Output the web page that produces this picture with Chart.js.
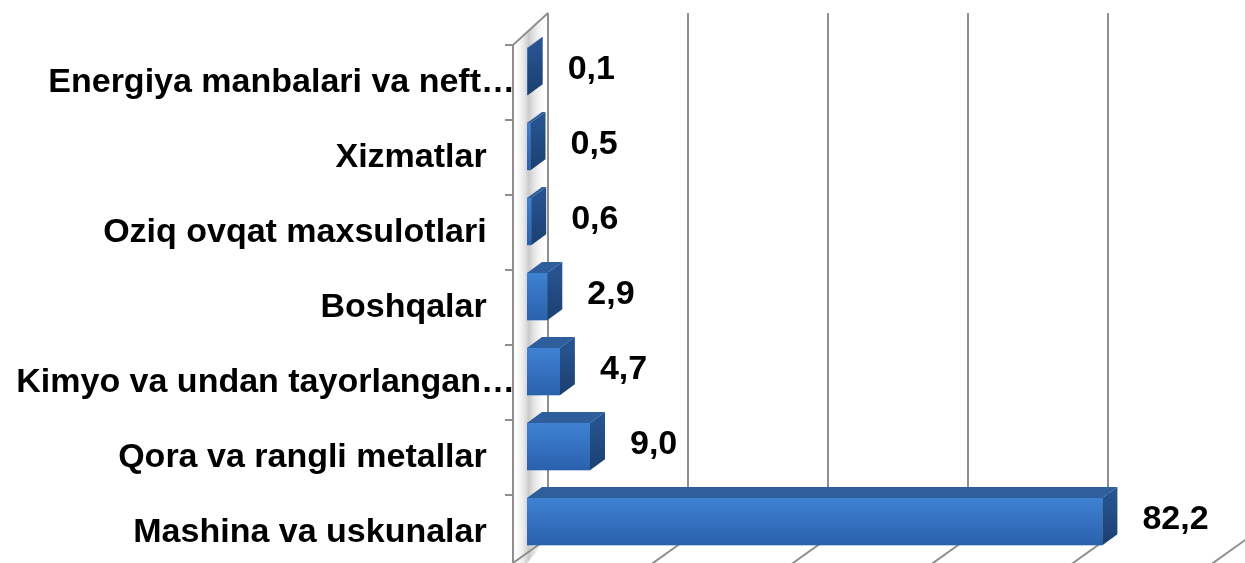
<!DOCTYPE html>
<html>
<head>
<meta charset="utf-8">
<script src="https://cdn.jsdelivr.net/npm/chart.js@4.4.0/dist/chart.umd.min.js"></script>
<style>
  body { margin: 0; background: #fff; }
  #wrap { width: 1245px; height: 563px; }
</style>
</head>
<body>
<div id="wrap"><canvas id="myChart"></canvas></div>
<script>
const categories = ["Energiya manbalari va neft…", "Xizmatlar", "Oziq ovqat maxsulotlari", "Boshqalar", "Kimyo va undan tayorlangan…", "Qora va rangli metallar", "Mashina va uskunalar"];
const values = [0.1, 0.5, 0.6, 2.9, 4.7, 9.0, 82.2];
const gridValues = [0, 20, 40, 60, 80, 100];

const FONT = "'Liberation Sans', Arial, sans-serif";
// 3d offsets, measured from the bar plane
const depth = { dx: 15, dy: -11 };
const front = { dx: -14, dy: 11 };
const back = { dx: 21, dy: -21 };

function poly(ctx, pts) {
  ctx.beginPath();
  ctx.moveTo(pts[0][0], pts[0][1]);
  for (let i = 1; i < pts.length; i++) ctx.lineTo(pts[i][0], pts[i][1]);
  ctx.closePath();
  ctx.fill();
}

// walls + gridlines (drawn behind bars)
const wallPlugin = {
  id: "walls",
  beforeDatasetsDraw(chart) {
    const { ctx, chartArea: a, scales: { x, y } } = chart;
    const step = y.getPixelForValue(1) - y.getPixelForValue(0);
    const fL = a.left + front.dx, fT = a.top + front.dy, fB = a.bottom + front.dy;
    const bL = a.left + back.dx, bT = a.top + back.dy, bB = a.bottom + back.dy;
    ctx.save();
    const g = ctx.createLinearGradient(fL, 0, bL, 0);
    g.addColorStop(0, "rgba(255,255,255,0)");
    g.addColorStop(0.45, "rgba(160,160,160,0.55)");
    g.addColorStop(1, "rgba(255,255,255,0)");
    ctx.fillStyle = g;
    poly(ctx, [[fL, fT], [bL, bT], [bL, bB], [fL, fB + 10]]);

    ctx.strokeStyle = "#8f8f8f";
    ctx.lineWidth = 2;
    // front edge of left wall
    ctx.beginPath();
    ctx.moveTo(fL, fT);
    ctx.lineTo(fL, fB + 10);
    ctx.stroke();
    // tick marks
    for (let i = 0; i < categories.length; i++) {
      const ty = y.getPixelForValue(i) - step / 2 + front.dy;
      ctx.beginPath();
      ctx.moveTo(fL - 8, ty);
      ctx.lineTo(fL, ty);
      ctx.stroke();
    }
    // top edge of left wall
    ctx.beginPath();
    ctx.moveTo(fL, fT);
    ctx.lineTo(bL, bT);
    ctx.stroke();
    // back wall gridlines + floor lines
    gridValues.forEach(v => {
      const xb = x.getPixelForValue(v) + back.dx;
      ctx.beginPath();
      ctx.moveTo(xb, bT);
      ctx.lineTo(xb, bB);
      ctx.lineTo(xb - 42, bB + 30);
      ctx.stroke();
    });
    ctx.restore();
  }
};

// 3d boxes + value labels
const boxPlugin = {
  id: "box3d",
  afterDatasetsDraw(chart) {
    const { ctx } = chart;
    const meta = chart.getDatasetMeta(0);
    ctx.save();
    meta.data.forEach((bar, i) => {
      const x0 = bar.base, x1 = bar.x;
      const y0 = bar.y - bar.height / 2, y1 = bar.y + bar.height / 2;
      const gf = ctx.createLinearGradient(0, y0, 0, y1);
      gf.addColorStop(0, "#3f82d4");
      gf.addColorStop(1, "#2a61ac");
      ctx.fillStyle = gf;
      ctx.fillRect(x0, y0, x1 - x0, y1 - y0);
      ctx.fillStyle = "#2f5e9c";
      poly(ctx, [[x0, y0], [x0 + depth.dx, y0 + depth.dy], [x1 + depth.dx, y0 + depth.dy], [x1, y0]]);
      const gs = ctx.createLinearGradient(0, y0, 0, y1);
      gs.addColorStop(0, "#26538f");
      gs.addColorStop(1, "#1c3f70");
      ctx.fillStyle = gs;
      poly(ctx, [[x1, y0], [x1 + depth.dx, y0 + depth.dy], [x1 + depth.dx, y1 + depth.dy], [x1, y1]]);

      ctx.fillStyle = "#000";
      ctx.font = "bold 34px " + FONT;
      ctx.textAlign = "left";
      ctx.textBaseline = "middle";
      ctx.fillText(values[i].toFixed(1).replace(".", ","), x1 + 40, bar.y - 2);
    });
    ctx.restore();
  }
};

const ctx = document.getElementById("myChart");
new Chart(ctx, {
  type: "bar",
  data: {
    labels: categories,
    datasets: [
      {
        data: values,
        backgroundColor: "#3a78c8",
        barPercentage: 0.63,
        categoryPercentage: 1,
      },
    ],
  },
  options: {
    indexAxis: "y",
    responsive: true,
    maintainAspectRatio: false,
    animation: false,
    layout: { padding: { top: 34, bottom: 4, right: 18, left: 0 } },
    plugins: { legend: { display: false }, tooltip: { enabled: false } },
    scales: {
      x: { display: false, min: 0, max: 100 },
      y: {
        grid: { display: false, drawTicks: false },
        border: { display: false },
        ticks: {
          autoSkip: false,
          padding: 12,
          labelOffset: 11,
          color: "#000",
          font: { family: FONT, size: 34, weight: "bold" },
          callback: (v, i) => categories[i].endsWith("…") ? categories[i] : categories[i] + "   ",
        },
        afterFit(scale) {
          scale.width = 527;
          scale.paddingTop = 0;
          scale.paddingBottom = 0;
        },
      },
    },
  },
  plugins: [wallPlugin, boxPlugin],
});
</script>
</body>
</html>
